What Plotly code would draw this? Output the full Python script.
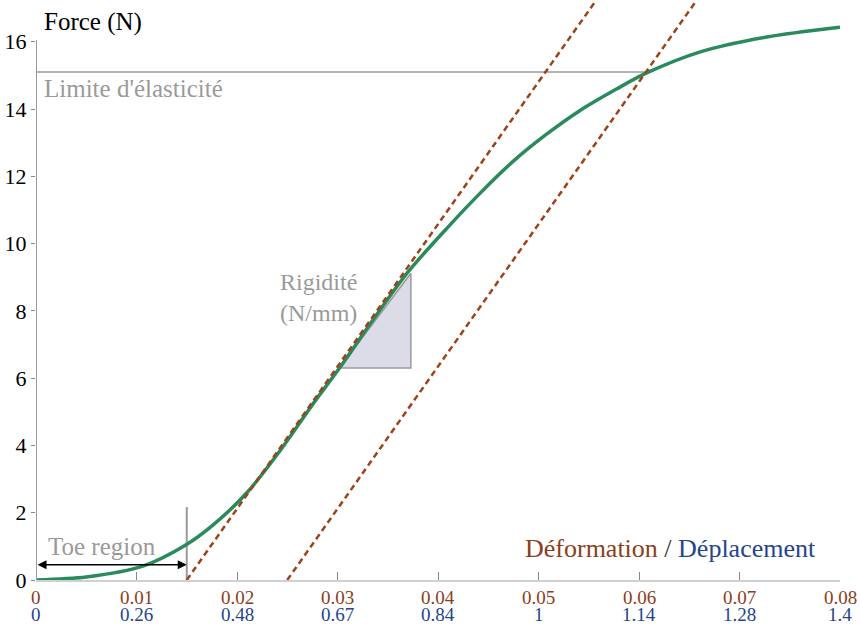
import plotly.graph_objects as go

# ---- data ----
strain = [0, 0.005, 0.0107, 0.0149, 0.0176, 0.021, 0.0243, 0.0276, 0.0302, 0.0335,
          0.037, 0.0409, 0.0442, 0.0475, 0.0508, 0.0541, 0.0578, 0.0606, 0.0661, 0.0727, 0.08]
force = [0, 0.09, 0.42, 1.04, 1.63, 2.6, 3.85, 5.25, 6.3, 7.72,
         9.15, 10.46, 11.5, 12.45, 13.25, 13.95, 14.6, 15.05, 15.7, 16.14, 16.43]

strain_ticks = [0, 0.01, 0.02, 0.03, 0.04, 0.05, 0.06, 0.07, 0.08]
strain_labels = ["0", "0.01", "0.02", "0.03", "0.04", "0.05", "0.06", "0.07", "0.08"]
disp_labels = ["0", "0.26", "0.48", "0.67", "0.84", "1", "1.14", "1.28", "1.4"]
force_ticks = [0, 2, 4, 6, 8, 10, 12, 14, 16]

stiffness = 423.0              # N per unit strain (slope of dashed lines)
line_offsets = [0.015, 0.025]  # strain intercepts of dashed lines
yield_force = 15.1
yield_strain = 0.0606
toe_end = 0.015
toe_top = 2.17
toe_arrow_force = 0.45
tri_strain = [0.0302, 0.0373]
tri_force = [6.3, 9.12]

Y_TOP = 17.24
PLOT_H = 580.0
BROWN = "#9e4318"
BROWN_TXT = "#8b3e1c"
BLUE = "#25458c"
GREEN = "#2b8a5c"
GREY = "#9a9a9a"
FONT = "Liberation Serif"

fig = go.Figure()

# rigidity triangle
fig.add_trace(go.Scatter(
    x=[tri_strain[0], tri_strain[1], tri_strain[1], tri_strain[0]],
    y=[tri_force[0], tri_force[0], tri_force[1], tri_force[0]],
    fill="toself", fillcolor="#dcdce8", mode="lines",
    line=dict(color=GREY, width=1.5), hoverinfo="skip", showlegend=False))

# yield limit line
fig.add_trace(go.Scatter(x=[0, yield_strain], y=[yield_force, yield_force], mode="lines",
                         line=dict(color=GREY, width=1.5), showlegend=False))
# toe boundary
fig.add_trace(go.Scatter(x=[toe_end, toe_end], y=[0, toe_top], mode="lines",
                         line=dict(color=GREY, width=2), showlegend=False))

# curve
fig.add_trace(go.Scatter(x=strain, y=force, mode="lines", line_shape="spline",
                         line=dict(color=GREEN, width=3.5, smoothing=0.8), showlegend=False))

# dashed stiffness lines
for off in line_offsets:
    xe = off + Y_TOP / stiffness
    fig.add_trace(go.Scatter(x=[off, xe], y=[0, stiffness * (xe - off)], mode="lines",
                             line=dict(color=BROWN, width=2.5, dash="6px,4px"),
                             showlegend=False))

# y axis line (stops at 16)
fig.add_shape(type="line", xref="x", yref="y", x0=0, x1=0, y0=0, y1=16.05,
              line=dict(color=GREY, width=2))

# toe arrow
fig.add_annotation(x=toe_end, y=toe_arrow_force, ax=0, ay=toe_arrow_force,
                   xref="x", yref="y", axref="x", ayref="y", text="",
                   showarrow=True, arrowhead=2, arrowside="end+start",
                   arrowsize=1.2, arrowwidth=1.5, arrowcolor="black",
                   standoff=0, startstandoff=0)

annots = [
    dict(x=0.0006, y=16.58, text="Force (N)", xanchor="left", color="black", size=25),
    dict(x=0.0006, y=14.6, text="Limite d'élasticité", xanchor="left", color=GREY, size=25),
    dict(x=0.001, y=1.0, text="Toe region", xanchor="left", color=GREY, size=25),
    dict(x=0.0281, y=8.4, text="Rigidité<br>(N/mm)", xanchor="center", color=GREY, size=24),
    dict(x=0.0778, y=0.95, xanchor="right", color="#333", size=26,
         text=f"<span style='color:{BROWN_TXT}'>Déformation</span> "
              f"<span style='color:#333'>/</span> "
              f"<span style='color:{BLUE}'>Déplacement</span>"),
]
for a in annots:
    fig.add_annotation(xref="x", yref="y", showarrow=False, yanchor="middle",
                       x=a["x"], y=a["y"], text=a["text"], xanchor=a["xanchor"],
                       font=dict(family=FONT, size=a["size"], color=a["color"]))

for xv, s, d in zip(strain_ticks, strain_labels, disp_labels):
    fig.add_annotation(x=xv, xref="x", y=-17 / PLOT_H, yref="paper", text=s,
                       showarrow=False, yanchor="middle",
                       font=dict(family=FONT, size=19, color=BROWN_TXT))
    fig.add_annotation(x=xv, xref="x", y=-34 / PLOT_H, yref="paper", text=d,
                       showarrow=False, yanchor="middle",
                       font=dict(family=FONT, size=19, color=BLUE))

fig.update_xaxes(range=[0, 0.08], tickvals=strain_ticks, showticklabels=False,
                 ticks="inside", ticklen=8, tickcolor="#888", tickwidth=1,
                 showline=True, linecolor="#d0d0d0", linewidth=2,
                 showgrid=False, zeroline=False)
fig.update_yaxes(range=[0, Y_TOP], tickvals=force_ticks, ticks="outside", ticklen=4,
                 tickcolor="#888", tickwidth=1, showline=False, showgrid=False,
                 zeroline=False, tickfont=dict(family=FONT, size=22, color="black"))

fig.update_layout(width=860, height=625, margin=dict(l=36, r=20, t=0, b=45),
                  plot_bgcolor="white", paper_bgcolor="white", showlegend=False)

fig.write_html("out.html", config={"displayModeBar": False},
               post_script="document.body.style.margin='0';")
